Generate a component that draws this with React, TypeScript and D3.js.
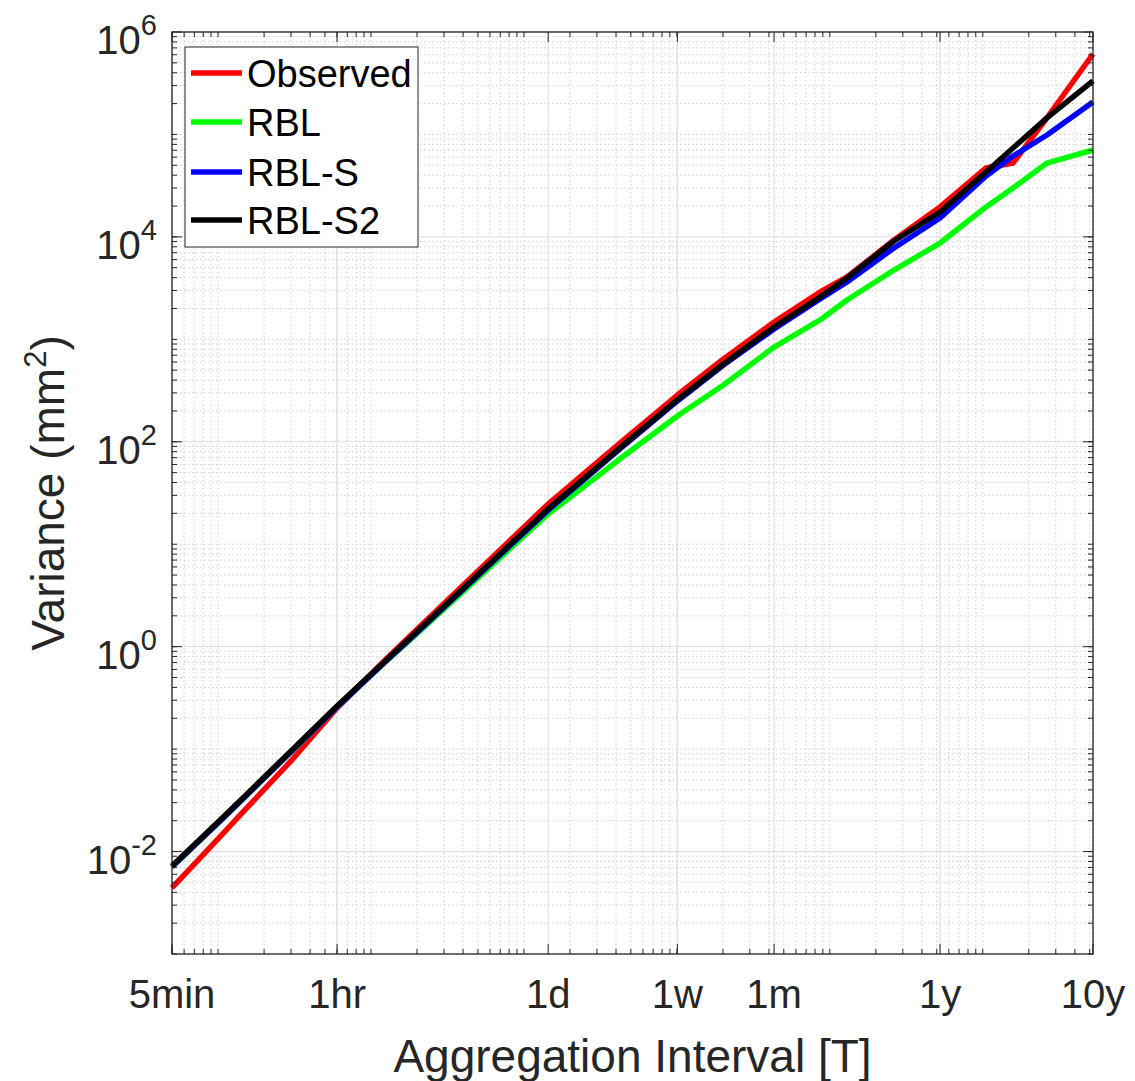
import React from "react";
import * as d3 from "d3";

// Aggregation intervals (minutes)
const intervalNames = ["5min","10min","15min","30min","1hr","2hr","3hr","6hr","12hr","1d","2d","3d","1w","2w","1m","2m","3m","6m","1y","2y","3y","5y","10y"];
const intervalMinutes = [5,10,15,30,60,120,180,360,720,1440,2880,4320,10080,20160,43200,86400,129600,262800,525600,1051200,1576800,2628000,5256000];

const observed = [0.00441,0.01327,0.02547,0.0766,0.252,0.709,1.271,3.42,9.19,24.7,59.4,99.5,286,643,1476,2900,4060,9330,19600,47100,52600,145000,610000];
const rbl = [0.00708,0.0190,0.0341,0.0938,0.2577,0.678,1.161,2.99,7.68,19.7,43.4,69.5,178.6,358,841,1545,2420,4750,8710,19600,30000,52600,70500];
const rblS = [0.0071,0.0190,0.0342,0.094,0.258,0.68,1.19,3.13,8.2,21.5,52,87,250,560,1262,2477,3630,7800,15300,39300,61600,98800,207000];
const rblS2 = [0.00724,0.01945,0.0349,0.0959,0.2636,0.693,1.216,3.20,8.40,22.1,53.1,89.0,256,574,1320,2590,3970,9120,17500,43000,73800,145000,333000];

const seriesNames = ["Observed","RBL","RBL-S","RBL-S2"];
const seriesColors = ["#ff0000","#00ff00","#0000ff","#000000"];
const seriesValues = [observed, rbl, rblS, rblS2];

const xTickValues = [5,60,1440,10080,43200,525600,5256000];
const xTickLabels = ["5min","1hr","1d","1w","1m","1y","10y"];
const yTickValues = [1e-2,1,1e2,1e4,1e6];
const yTickExponents = ["-2","0","2","4","6"];

const W = 1135, H = 1081;
const L = 172, R = 1093, T = 32, B = 954;
const FONT = "'Liberation Sans', Arial, Helvetica, sans-serif";
const AX = "#262626";

export default function App() {
  const x = d3.scaleLog().domain([5, 5256000]).range([L, R]);
  const y = d3.scaleLog().domain([1e-3, 1e6]).range([B, T]);

  const xMinor: number[] = [];
  for (let k = 0; k <= 6; k++) for (let m = 1; m <= 9; m++) {
    const v = m * Math.pow(10, k);
    if (v >= 5 && v <= 5256000) xMinor.push(v);
  }
  const yMinor: number[] = [];
  for (let k = -3; k <= 5; k++) for (let m = 1; m <= 9; m++) {
    const v = m * Math.pow(10, k);
    if (v >= 1e-3 && v <= 1e6) yMinor.push(v);
  }
  const isMajorY = (v: number) => yTickValues.some(t => Math.abs(Math.log10(v) - Math.log10(t)) < 1e-9);

  const line = d3.line<number>()
    .x((_, i) => x(intervalMinutes[i]))
    .y(d => y(d));

  const legendX = 185, legendY = 47, legendW = 233, legendH = 200;
  const legendRows = [73, 122, 172, 220];

  return (
    <svg width={W} height={H} style={{ position: "absolute", left: 0, top: 0, background: "#fff" }} fontFamily={FONT}>
      <rect x={0} y={0} width={W} height={H} fill="#fff" />
      <g stroke="#cfcfcf" strokeWidth={1} strokeDasharray="1.5,2.5">
        {xMinor.map((v, i) => (
          <line key={"xm" + i} x1={x(v)} x2={x(v)} y1={T} y2={B} />
        ))}
        {yMinor.filter(v => !isMajorY(v)).map((v, i) => (
          <line key={"ym" + i} x1={L} x2={R} y1={y(v)} y2={y(v)} />
        ))}
      </g>
      <g stroke="#dcdcdc" strokeWidth={1}>
        {xTickValues.map((v, i) => (
          <line key={"xg" + i} x1={x(v)} x2={x(v)} y1={T} y2={B} />
        ))}
        {yTickValues.map((v, i) => (
          <line key={"yg" + i} x1={L} x2={R} y1={y(v)} y2={y(v)} />
        ))}
      </g>
      <g fill="none" strokeWidth={5.5} strokeLinejoin="round">
        {seriesValues.map((vals, s) => (
          <path key={s} d={line(vals) || ""} stroke={seriesColors[s]} />
        ))}
      </g>
      <g stroke={AX} strokeWidth={1}>
        {xMinor.map((v, i) => (
          <g key={"xt" + i}>
            <line x1={x(v)} x2={x(v)} y1={B} y2={B - 5} />
            <line x1={x(v)} x2={x(v)} y1={T} y2={T + 5} />
          </g>
        ))}
        {xTickValues.map((v, i) => (
          <g key={"xT" + i}>
            <line x1={x(v)} x2={x(v)} y1={B} y2={B - 10} />
            <line x1={x(v)} x2={x(v)} y1={T} y2={T + 10} />
          </g>
        ))}
        {yMinor.map((v, i) => (
          <g key={"yt" + i}>
            <line x1={L} x2={L + 5} y1={y(v)} y2={y(v)} />
            <line x1={R} x2={R - 5} y1={y(v)} y2={y(v)} />
          </g>
        ))}
        {yTickValues.map((v, i) => (
          <g key={"yT" + i}>
            <line x1={L} x2={L + 10} y1={y(v)} y2={y(v)} />
            <line x1={R} x2={R - 10} y1={y(v)} y2={y(v)} />
          </g>
        ))}
      </g>
      <rect x={L} y={T} width={R - L} height={B - T} fill="none" stroke={AX} strokeWidth={1.3} />
      <g fill={AX} fontSize={40} textAnchor="middle">
        {xTickValues.map((v, i) => (
          <text key={"xl" + i} x={x(v)} y={1008}>{xTickLabels[i]}</text>
        ))}
      </g>
      <g fill={AX} textAnchor="end">
        {yTickValues.map((v, i) => (
          <text key={"yl" + i} x={157} y={y(v) + 22}>
            <tspan fontSize={40}>10</tspan>
            <tspan fontSize={29} dy={-19}>{yTickExponents[i]}</tspan>
          </text>
        ))}
      </g>
      <text x={(L + R) / 2} y={1072} fontSize={46} textAnchor="middle" fill={AX}>Aggregation Interval [T]</text>
      <text transform={`translate(64,${493}) rotate(-90)`} fontSize={46} textAnchor="middle" fill={AX}>
        Variance (mm<tspan fontSize={31} dy={-18}>2</tspan><tspan dy={18}>)</tspan>
      </text>
      <rect x={legendX} y={legendY} width={legendW} height={legendH} fill="#fff" stroke={AX} strokeWidth={1} />
      {seriesNames.map((n, i) => (
        <g key={"lg" + i}>
          <line x1={191} x2={242} y1={legendRows[i]} y2={legendRows[i]} stroke={seriesColors[i]} strokeWidth={5.5} />
          <text x={247} y={legendRows[i] + 14} fontSize={38} fill="#000">{n}</text>
        </g>
      ))}
    </svg>
  );
}
